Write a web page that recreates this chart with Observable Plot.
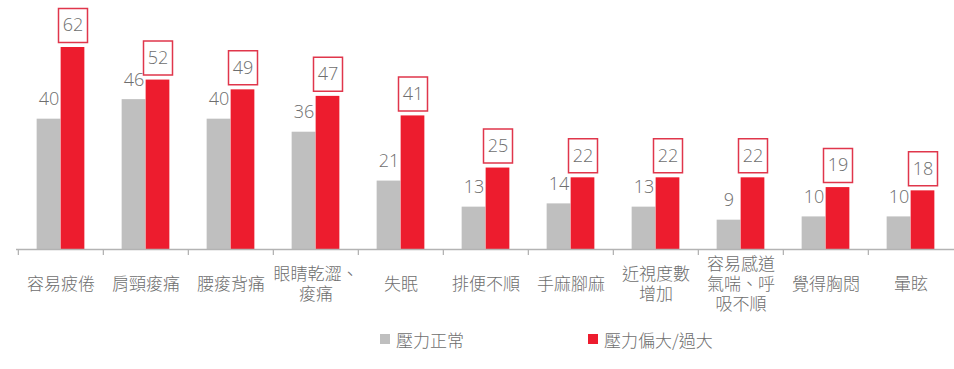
<!DOCTYPE html>
<html><head><meta charset="utf-8">
<script src="https://cdn.jsdelivr.net/npm/d3@7"></script>
<script src="https://cdn.jsdelivr.net/npm/@observablehq/plot@0.6"></script>
<style>
body{margin:0;background:#fff;font-family:"Noto Sans CJK TC","Noto Sans",sans-serif;font-weight:300;}
#wrap{position:relative;width:954px;height:369px;}
#legend{position:absolute;top:328px;left:0;width:954px;height:22px;font-size:17px;color:#6e6e6e;font-weight:300;}
.item{position:absolute;top:0;display:flex;align-items:center;height:22px;white-space:nowrap;}
.sw{width:10px;height:10px;margin-right:6px;}
</style></head><body>
<div id="wrap"><div id="chart"></div><div id="legend"></div></div>
<script>
const categories = ["容易疲倦","肩頸痠痛","腰痠背痛","眼睛乾澀、痠痛","失眠","排便不順","手麻腳麻","近視度數增加","容易感道氣喘、呼吸不順","覺得胸悶","暈眩"];
const tickLabels = ["容易疲倦","肩頸痠痛","腰痠背痛","眼睛乾澀、\n痠痛","失眠","排便不順","手麻腳麻","近視度數\n增加","容易感道\n氣喘、呼\n吸不順","覺得胸悶","暈眩"];
const seriesNames = ["壓力正常","壓力偏大/過大"];
const seriesColors = ["#bfbfbf","#ed1c2e"];
const normalValues = [40,46,40,36,21,13,14,13,9,10,10];
const highValues = [62,52,49,47,41,25,22,22,22,19,18];

const W = 954, H = 318, ML = 16, MR = 0, MT = 47, MB = 69;
const bw = (W - ML - MR) / categories.length;
const barW = 24;
const normal = categories.map((c, i) => ({category: c, value: normalValues[i]}));
const high = categories.map((c, i) => ({category: c, value: highValues[i]}));
const boxSymbol = {draw(ctx) { ctx.rect(-14.5, -17, 29, 34); }};
const numFont = '"Open Sans","Noto Sans",sans-serif';

const chart = Plot.plot({
  width: W, height: H, marginLeft: ML, marginRight: MR, marginTop: MT, marginBottom: MB,
  style: {fontFamily: '"Noto Sans CJK TC","Noto Sans",sans-serif', fontSize: "17px", fontWeight: 300, color: "#6e6e6e", background: "#fff", overflow: "visible"},
  x: {domain: categories, padding: 0, label: null},
  y: {domain: [0, 62], axis: null},
  marks: [
    Plot.barY(normal, {x: "category", y: "value", fill: seriesColors[0], insetLeft: bw / 2 - barW, insetRight: bw / 2}),
    Plot.barY(high, {x: "category", y: "value", fill: seriesColors[1], insetLeft: bw / 2, insetRight: bw / 2 - barW}),
    Plot.ruleY([0], {stroke: "#b3b3b3", strokeWidth: 1.3}),
    Plot.axisX({tickSize: 6, tickFormat: () => "", dx: -bw / 2, stroke: "#b3b3b3", strokeWidth: 1.3, strokeOpacity: 1, label: null}),
    Plot.axisX({tickSize: 0, tickPadding: 34, tickFormat: c => tickLabels[categories.indexOf(c)], lineAnchor: "middle", lineHeight: 1.2, fontSize: 17, fill: "#6e6e6e", label: null}),
    Plot.text(normal, {x: "category", y: "value", text: d => String(d.value), dx: -barW / 2, dy: -14, lineAnchor: "bottom", fill: "#6e6e6e", fontSize: 18, fontFamily: numFont}),
    Plot.dot(high, {x: "category", y: "value", dx: barW / 2, dy: -22, symbol: boxSymbol, r: 10, fill: "white", stroke: "#e0364b", strokeWidth: 1.5}),
    Plot.text(high, {x: "category", y: "value", text: d => String(d.value), dx: barW / 2, dy: -22, lineAnchor: "middle", fill: "#6e6e6e", fontSize: 18, fontFamily: numFont})
  ]
});
document.getElementById("chart").appendChild(chart);

const legend = document.getElementById("legend");
const lefts = [380, 588];
seriesNames.forEach((s, i) => {
  const it = document.createElement("div");
  it.className = "item";
  it.style.left = lefts[i] + "px";
  const sw = document.createElement("span");
  sw.className = "sw";
  sw.style.background = seriesColors[i];
  const t = document.createElement("span");
  t.textContent = s;
  it.appendChild(sw); it.appendChild(t);
  legend.appendChild(it);
});
</script></body></html>
